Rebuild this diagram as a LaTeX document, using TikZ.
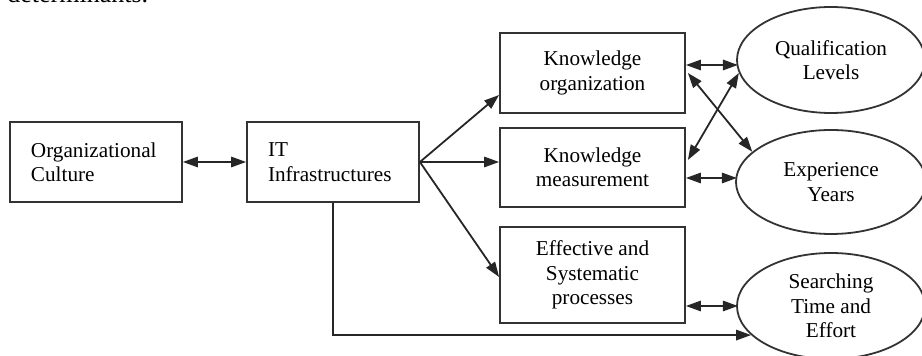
\documentclass[tikz,border=0pt]{standalone}
\usepackage{fontspec}
\setmainfont{Liberation Serif}
\usetikzlibrary{arrows.meta,shapes.geometric,calc}
\begin{document}
\begin{tikzpicture}[x=0.5pt,y=-0.5pt,
  txt/.style={font=\fontsize{10.6}{12.2}\selectfont},
  lbox/.style={txt,draw=black!80,line width=0.9pt,rectangle,inner xsep=10.5pt,inner ysep=0pt,text width=65pt,align=left,minimum height=40pt},
  cbox/.style={txt,draw=black!80,line width=0.9pt,rectangle,inner sep=0pt,minimum width=92.5pt,align=center},
  ell/.style={txt,ellipse,draw=black!80,line width=0.9pt,inner sep=0pt,minimum width=94pt,minimum height=53pt,align=center},
  con/.style={draw=black!85,line width=0.9pt,-{Triangle[length=7.5pt,width=5.2pt]}},
  bicon/.style={draw=black!85,line width=0.9pt,{Triangle[length=7.5pt,width=5.2pt]}-{Triangle[length=7.5pt,width=5.2pt]}}]
\useasboundingbox (0,0) rectangle (922,356);
\clip (0,0) rectangle (922,356);
\node[anchor=base west,font=\fontsize{13}{15}\selectfont,inner sep=0pt] (hd) at (7,3) {determinants.};
\node[lbox] (oc) at (96,162) {Organizational\\Culture};
\node[lbox] (it) at (333,162) {IT\\Infrastructures};
\node[cbox,minimum height=40pt] (ko) at (592.5,73) {Knowledge\\organization};
\node[cbox,minimum height=39.5pt] (km) at (592.5,167.5) {Knowledge\\measurement};
\node[cbox,minimum height=48pt] (ep) at (592.5,275) {Effective and\\Systematic\\processes};
\node[ell] (ql) at (831,60) {Qualification\\Levels};
\node[ell,minimum width=95pt,minimum height=52pt] (ey) at (831,182) {Experience\\Years};
\node[ell] (st) at (831,306) {Searching\\Time and\\Effort};
\draw[bicon] (oc.east) -- (it.west);
\draw[con] (it.east) -- ($(ko.west)+(0,22)$);
\draw[con] (it.east) -- (km.west |- it.east);
\draw[con] (it.east) -- ($(ep.west)+(0,2)$);
\draw[con] (it.south) |- (st.200);
\draw[bicon] ($(ko.east)+(0,-8)$) -- ++(52,0);
\draw[bicon] ($(km.east)+(0,10.5)$) -- ++(51,0);
\draw[bicon] ($(ep.east)+(0,31)$) -- ++(52,0);
\draw[bicon] ($(ko.east)+(2,0)$) -- (ey.159);
\draw[bicon] ($(km.east)+(2,-7.5)$) -- (ql.188);
\end{tikzpicture}
\end{document}
